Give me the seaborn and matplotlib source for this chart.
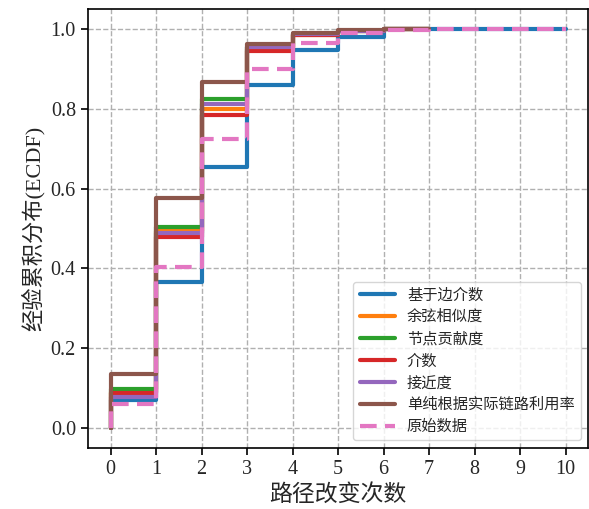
import matplotlib
matplotlib.use("Agg")
import matplotlib.pyplot as plt
import pandas as pd
import seaborn as sns

# number of path changes (x) and cumulative share for each method
changes = list(range(11))
methods = ["基于边介数", "余弦相似度", "节点贡献度", "介数", "接近度",
           "单纯根据实际链路利用率", "原始数据"]

# series stop at the largest observed number of changes
ecdf_edge_betweenness = [0.070, 0.367, 0.655, 0.861, 0.947, 0.981, 1.0, 1.0, 1.0, 1.0, 1.0]
ecdf_cosine = [0.091, 0.494, 0.799, 0.949, 0.985, 0.995, 1.0, 1.0]
ecdf_node_contrib = [0.098, 0.503, 0.824, 0.955, 0.987, 0.996, 1.0, 1.0]
ecdf_betweenness = [0.087, 0.479, 0.784, 0.945, 0.985, 0.995, 1.0, 1.0]
ecdf_closeness = [0.078, 0.488, 0.813, 0.955, 0.987, 0.996, 1.0, 1.0]
ecdf_link_util = [0.135, 0.576, 0.868, 0.962, 0.989, 0.997, 1.0, 1.0]
ecdf_original = [0.059, 0.404, 0.724, 0.899, 0.964, 0.989, 0.997, 1.0, 1.0, 1.0, 1.0]

series = [ecdf_edge_betweenness, ecdf_cosine, ecdf_node_contrib, ecdf_betweenness,
          ecdf_closeness, ecdf_link_util, ecdf_original]

sns.set_theme(style="ticks")
plt.rcParams["font.family"] = ["Liberation Serif", "Noto Sans CJK SC"]

colors = sns.color_palette("tab10", 7)

fig = plt.figure(figsize=(5.89, 5.09), dpi=100)
ax = fig.add_axes([0.149, 0.12, 0.85, 0.862])

for name, vals, col in zip(methods, series, colors):
    # ECDF starts from 0 at the first value
    xs = changes[:len(vals)]
    df = pd.DataFrame({"x": [xs[0]] + xs, "y": [0.0] + vals})
    ls = (0, (4, 2)) if name == "原始数据" else "-"
    sns.lineplot(data=df, x="x", y="y", ax=ax, color=col, lw=3, linestyle=ls,
                 drawstyle="steps-post", estimator=None, sort=False, label=name)

ax.set_xlim(-0.5, 10.5)
ax.set_ylim(-0.05, 1.05)
ax.set_xticks(changes)
ax.set_yticks([0.0, 0.2, 0.4, 0.6, 0.8, 1.0])
ax.set_yticklabels(["0.0", "0.2", "0.4", "0.6", "0.8", "1.0"])
ax.tick_params(labelsize=14.5, length=5, width=1.2, color="black")
ax.grid(True, linestyle="--", color="#b0b0b0", linewidth=1)
for sp in ax.spines.values():
    sp.set_color("black")
    sp.set_linewidth(1.2)

ax.set_xlabel("路径改变次数", fontsize=16.5)
ax.set_ylabel("经验累积分布(ECDF)", fontsize=16)

ax.legend(loc="lower right", fontsize=11, handlelength=2.3, labelspacing=0.5,
          handletextpad=0.8, framealpha=0.8)

fig.savefig("out.png", dpi=100)
